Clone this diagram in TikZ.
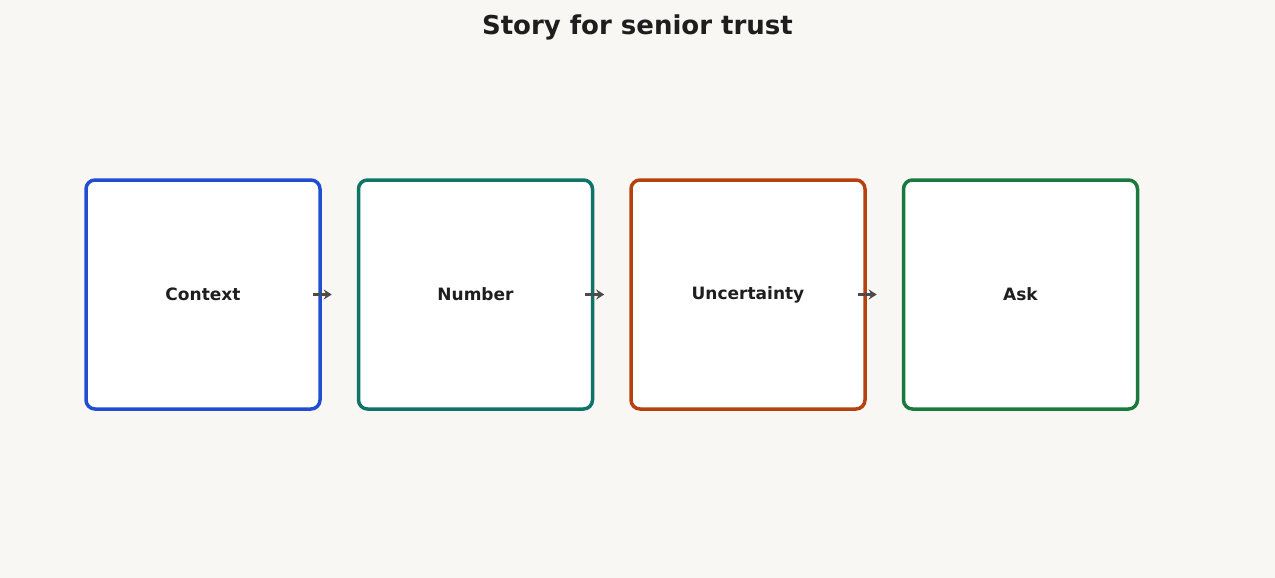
\documentclass[tikz,border=0pt]{standalone}
\usepackage{fontspec}
\setmainfont{DejaVu Sans}
\usetikzlibrary{arrows.meta,positioning}
\definecolor{bgcol}{HTML}{F9F7F3}
\definecolor{ctxblue}{HTML}{1F4FD0}
\definecolor{numteal}{HTML}{0F7468}
\definecolor{uncorange}{HTML}{B5410F}
\definecolor{askgreen}{HTML}{1A7A3E}
\definecolor{inkcol}{HTML}{1E1E1E}
\begin{document}
\begin{tikzpicture}[x=1pt,y=-1pt,
    step box/.style={draw,line width=3.5pt,rounded corners=9pt,fill=white,
      minimum width=234pt,minimum height=229pt,font=\bfseries\fontsize{17}{20}\selectfont,text=inkcol},
    flow/.style={-{Stealth[length=8pt,width=10pt]},line width=3pt,draw=black!70,
      shorten >=25pt,shorten <=-9pt}]
  \fill[bgcol] (0,0) rectangle (1275,578);
  \useasboundingbox (0,0) rectangle (1275,578);
  \node[font=\bfseries\fontsize{26}{31}\selectfont,text=inkcol] (title) at (637.5,27) {Story for senior trust};
  \node[step box,draw=ctxblue] (ctx) at (203,294.5) {Context};
  \node[step box,draw=numteal,right=35pt of ctx] (num) {Number};
  \node[step box,draw=uncorange,right=35pt of num] (unc) {Uncertainty};
  \node[step box,draw=askgreen,right=35pt of unc] (ask) {Ask};
  \draw[flow] (ctx.east) -- (num.west);
  \draw[flow] (num.east) -- (unc.west);
  \draw[flow] (unc.east) -- (ask.west);
\end{tikzpicture}
\end{document}
